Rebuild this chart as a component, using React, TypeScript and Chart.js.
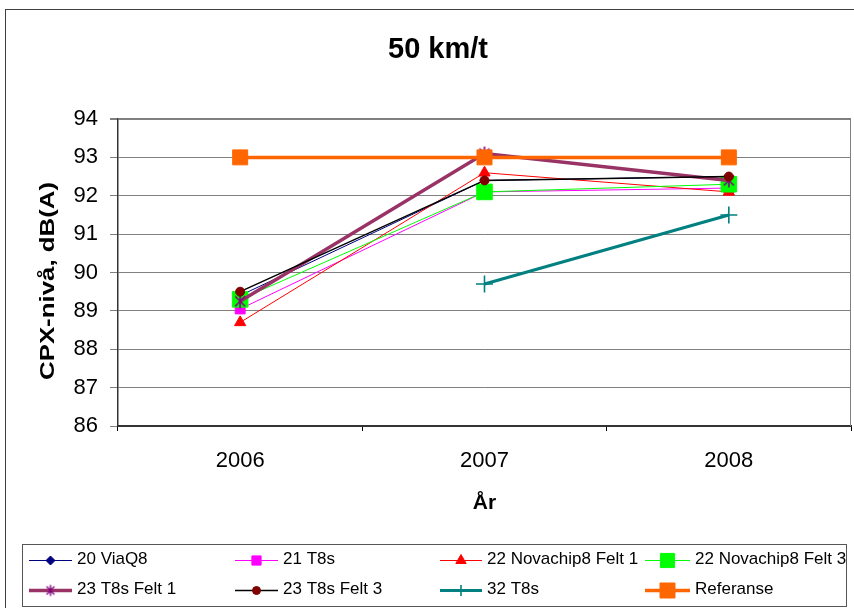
import React, { useEffect, useRef } from 'react';
import { Chart, registerables } from 'chart.js';

Chart.register(...registerables);

// ---- data ----
const years = ['2006', '2007', '2008'];
const seriesNames = [
  '20 ViaQ8',
  '21 T8s',
  '22 Novachip8 Felt 1',
  '22 Novachip8 Felt 3',
  '23 T8s Felt 1',
  '23 T8s Felt 3',
  '32 T8s',
  'Referanse',
];
const viaQ8 = [89.4, 92.4, 92.5];
const t8s21 = [89.05, 92.1, 92.2];
const novachipFelt1 = [88.7, 92.6, 92.1];
const novachipFelt3 = [89.3, 92.1, 92.3];
const t8sFelt1 = [89.25, 93.1, 92.4];
const t8sFelt3 = [89.5, 92.4, 92.5];
const t8s32: (number | null)[] = [null, 89.7, 91.5];
const referanse = [93, 93, 93];
const yMin = 86;
const yMax = 94;
const yStep = 1;
const chartTitle = '50 km/t';
const yTitle = 'CPX-nivå, dB(A)';
const xTitle = 'År';

const FONT = '"Liberation Sans", Arial, Helvetica, sans-serif';

function makeAsterisk(r: number, color: string, lw: number): HTMLCanvasElement {
  const size = Math.ceil(r * 2 + lw * 2);
  const c = document.createElement('canvas');
  c.width = size;
  c.height = size;
  const g = c.getContext('2d')!;
  const m = size / 2;
  g.strokeStyle = color;
  g.lineWidth = lw;
  g.beginPath();
  const d = r * Math.SQRT1_2;
  g.moveTo(m - d, m - d); g.lineTo(m + d, m + d);
  g.moveTo(m + d, m - d); g.lineTo(m - d, m + d);
  g.moveTo(m, m - r); g.lineTo(m, m + r);
  g.stroke();
  return c;
}

function drawMarker(ctx: CanvasRenderingContext2D, style: any, x: number, y: number, r: number, fill: string, stroke: string, lw: number) {
  ctx.save();
  if (style instanceof HTMLCanvasElement) {
    ctx.drawImage(style, x - style.width / 2, y - style.height / 2);
    ctx.restore();
    return;
  }
  ctx.fillStyle = fill;
  ctx.strokeStyle = stroke;
  ctx.lineWidth = lw;
  ctx.beginPath();
  if (style === 'rect') {
    const s = r * Math.SQRT1_2;
    ctx.rect(x - s, y - s, 2 * s, 2 * s);
    ctx.fill(); ctx.stroke();
  } else if (style === 'rectRot') {
    ctx.moveTo(x - r, y); ctx.lineTo(x, y - r); ctx.lineTo(x + r, y); ctx.lineTo(x, y + r); ctx.closePath();
    ctx.fill(); ctx.stroke();
  } else if (style === 'triangle') {
    let a = 0;
    ctx.moveTo(x + Math.sin(a) * r, y - Math.cos(a) * r);
    a += (2 * Math.PI) / 3;
    ctx.lineTo(x + Math.sin(a) * r, y - Math.cos(a) * r);
    a += (2 * Math.PI) / 3;
    ctx.lineTo(x + Math.sin(a) * r, y - Math.cos(a) * r);
    ctx.closePath();
    ctx.fill(); ctx.stroke();
  } else if (style === 'circle') {
    ctx.arc(x, y, r, 0, Math.PI * 2);
    ctx.fill(); ctx.stroke();
  } else if (style === 'cross') {
    ctx.moveTo(x - r, y); ctx.lineTo(x + r, y);
    ctx.moveTo(x, y - r); ctx.lineTo(x, y + r);
    ctx.stroke();
  }
  ctx.restore();
}

export default function App() {
  const canvasRef = useRef<HTMLCanvasElement | null>(null);

  useEffect(() => {
    const canvas = canvasRef.current;
    if (!canvas) return;
    const asterisk = makeAsterisk(7, '#800080', 1.6);
    const asteriskLegend = makeAsterisk(5.5, '#800080', 1.4);

    const values = [viaQ8, t8s21, novachipFelt1, novachipFelt3, t8sFelt1, t8sFelt3, t8s32, referanse];
    const styles = [
      { line: '#000080', bw: 1, ps: 'rectRot', r: 4.5, fill: '#000080', pc: '#000080', pbw: 1, lr: 4.5 },
      { line: '#FF00FF', bw: 1, ps: 'rect', r: 7, fill: '#FF00FF', pc: '#FF00FF', pbw: 1, lr: 6.5 },
      { line: '#FF0000', bw: 1, ps: 'triangle', r: 6.5, fill: '#FF0000', pc: '#FF0000', pbw: 1, lr: 6 },
      { line: '#00FF00', bw: 1, ps: 'rect', r: 11, fill: '#00FF00', pc: '#00FF00', pbw: 1, lr: 10 },
      { line: '#993366', bw: 3.5, ps: asterisk as any, r: 7, fill: '#800080', pc: '#800080', pbw: 1.6, lr: 5.5, legendPs: asteriskLegend },
      { line: '#000000', bw: 1.5, ps: 'circle', r: 4.5, fill: '#800000', pc: '#800000', pbw: 1, lr: 4 },
      { line: '#008080', bw: 3, ps: 'cross', r: 8.5, fill: '#008080', pc: '#008080', pbw: 1.6, lr: 5.5 },
      { line: '#FF6600', bw: 3.5, ps: 'rect', r: 10.6, fill: '#FF6600', pc: '#FF6600', pbw: 1, lr: 10.6 },
    ];

    const datasets = values.map((d, i) => ({
      label: seriesNames[i],
      data: d,
      borderColor: styles[i].line,
      backgroundColor: styles[i].fill,
      borderWidth: styles[i].bw,
      pointStyle: styles[i].ps,
      pointRadius: styles[i].r,
      pointHoverRadius: styles[i].r,
      pointBackgroundColor: styles[i].fill,
      pointBorderColor: styles[i].pc,
      pointBorderWidth: styles[i].pbw,
      fill: false,
      tension: 0,
      order: values.length - 1 - i,
    }));

    const legendCols = [
      { x1: 29, x2: 72 },
      { x1: 235, x2: 278 },
      { x1: 440, x2: 482 },
      { x1: 645, x2: 690 },
    ];
    const legendRows = [560, 590];

    const decor = {
      id: 'decor',
      beforeDatasetsDraw(chart: any) {
        const { ctx, chartArea } = chart;
        ctx.save();
        ctx.strokeStyle = '#808080';
        ctx.lineWidth = 1;
        ctx.beginPath();
        ctx.moveTo(Math.round(chartArea.right) - 0.5, chartArea.top);
        ctx.lineTo(Math.round(chartArea.right) - 0.5, chartArea.bottom);
        ctx.stroke();
        ctx.restore();
      },
      afterDraw(chart: any) {
        const ctx: CanvasRenderingContext2D = chart.ctx;
        ctx.save();
        // outer border
        ctx.strokeStyle = '#404040';
        ctx.lineWidth = 1;
        ctx.strokeRect(5.5, 9.5, 870, 640);
        // title
        ctx.fillStyle = '#000';
        ctx.font = `bold 29px ${FONT}`;
        ctx.textAlign = 'center';
        ctx.textBaseline = 'alphabetic';
        ctx.fillText(chartTitle, 438, 58);
        // y title
        ctx.save();
        ctx.translate(54, 281);
        ctx.rotate(-Math.PI / 2);
        ctx.font = `bold 21px ${FONT}`;
        const w = ctx.measureText(yTitle).width;
        ctx.scale(198 / w, 1);
        ctx.textAlign = 'center';
        ctx.textBaseline = 'alphabetic';
        ctx.fillText(yTitle, 0, 0);
        ctx.restore();
        // legend box
        ctx.strokeStyle = '#555';
        ctx.lineWidth = 1;
        ctx.strokeRect(22.5, 544.5, 824, 62);
        ctx.font = `17px ${FONT}`;
        ctx.textAlign = 'left';
        ctx.textBaseline = 'middle';
        for (let i = 0; i < seriesNames.length; i++) {
          const col = legendCols[i % 4];
          const ry = legendRows[Math.floor(i / 4)];
          const s: any = styles[i];
          ctx.save();
          ctx.strokeStyle = s.line;
          ctx.lineWidth = s.bw;
          ctx.beginPath();
          ctx.moveTo(col.x1, ry + 0.5);
          ctx.lineTo(col.x2, ry + 0.5);
          ctx.stroke();
          ctx.restore();
          drawMarker(ctx, s.legendPs || s.ps, (col.x1 + col.x2) / 2, ry + 0.5, s.lr, s.fill, s.pc, s.pbw);
          ctx.fillStyle = '#000';
          ctx.fillText(seriesNames[i], col.x2 + 5, ry - 1);
        }
        ctx.restore();
      },
    };

    const chart = new Chart(canvas, {
      type: 'line',
      data: { labels: years, datasets: datasets as any },
      options: {
        animation: false,
        responsive: false,
        devicePixelRatio: 1,
        layout: { autoPadding: false, padding: { top: 119, right: 3, bottom: 78, left: 0 } },
        plugins: {
          legend: { display: false },
          title: { display: false },
          tooltip: { enabled: false },
        },
        scales: {
          x: {
            type: 'category',
            offset: true,
            grid: {
              display: true,
              drawOnChartArea: false,
              offset: true,
              tickLength: 5,
              color: '#000',
              lineWidth: 1,
            },
            border: { display: true, color: '#333', width: 2 },
            ticks: {
              color: '#000',
              font: { family: FONT, size: 22 },
              padding: 17,
              maxRotation: 0,
            },
            title: {
              display: true,
              text: xTitle,
              color: '#000',
              font: { family: FONT, size: 21, weight: 'bold' },
              padding: { top: 0, bottom: 14 },
            },
            afterFit: (scale: any) => {
              scale.height = 104;
              scale.paddingLeft = 0;
              scale.paddingRight = 0;
            },
          },
          y: {
            type: 'linear',
            min: yMin,
            max: yMax,
            grid: {
              color: '#808080',
              lineWidth: (c: any) => (c.tick && c.tick.value === yMax ? 2 : 1),
              tickLength: 8,
              drawTicks: true,
            },
            border: { display: true, color: '#333', width: 1.5 },
            ticks: {
              stepSize: yStep,
              color: '#000',
              font: { family: FONT, size: 22 },
              padding: 12,
            },
            title: { display: false },
            afterFit: (scale: any) => { scale.width = 118; },
          },
        },
      },
      plugins: [decor],
    });

    return () => { chart.destroy(); };
  }, []);

  return (
    <div style={{ position: 'absolute', left: 0, top: 0, width: 854, height: 608, background: '#fff' }}>
      <canvas ref={canvasRef} width={854} height={608} style={{ display: 'block' }} />
    </div>
  );
}
